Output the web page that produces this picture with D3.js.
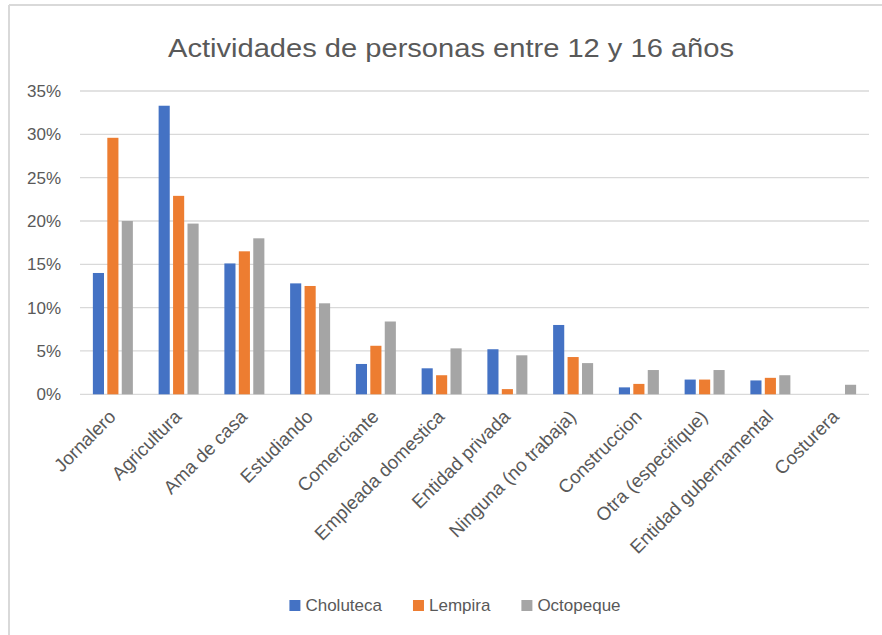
<!DOCTYPE html>
<html>
    <head>
        <style>
            body{
                margin: 0;
                background-color: white;
            }
            text{
                font-family: "Liberation Sans", Arial, sans-serif;
                fill: #595959;
            }
        </style>
        <script src="https://d3js.org/d3.v7.min.js"></script>
    </head>
    <body>
        <script>
            const w = 882;
            const h = 635;

            const categories = ["Jornalero", "Agricultura", "Ama de casa", "Estudiando", "Comerciante",
                "Empleada domestica", "Entidad privada", "Ninguna (no trabaja)", "Construccion",
                "Otra (especifique)", "Entidad gubernamental", "Costurera"];
            const series = ["Choluteca", "Lempira", "Octopeque"];
            const choluteca = [14.0, 33.3, 15.1, 12.8, 3.5, 3.0, 5.2, 8.0, 0.8, 1.7, 1.6, 0];
            const lempira = [29.6, 22.9, 16.5, 12.5, 5.6, 2.2, 0.6, 4.3, 1.2, 1.7, 1.9, 0];
            const octopeque = [20.0, 19.7, 18.0, 10.5, 8.4, 5.3, 4.5, 3.6, 2.8, 2.8, 2.2, 1.1];
            const yTicks = [0, 5, 10, 15, 20, 25, 30, 35];
            const colors = ["#4472c4", "#ed7d31", "#a5a5a5"];

            const values = [choluteca, lempira, octopeque];
            const rows = categories.map((c, i) => ({
                cat: c,
                vals: series.map((s, j) => ({key: s, v: values[j][i], color: colors[j]}))
            }));

            const svg = d3.select("body")
                        .append("svg")
                        .attr("width", w)
                        .attr("height", h);

            // chart frame
            svg.append("line").attr("x1", 9).attr("x2", w).attr("y1", 5).attr("y2", 5)
                .attr("stroke", "#d9d9d9").attr("stroke-width", 2);
            svg.append("line").attr("x1", 9).attr("x2", 9).attr("y1", 5).attr("y2", h)
                .attr("stroke", "#d9d9d9").attr("stroke-width", 2);

            svg.append("text")
                .attr("x", 451)
                .attr("y", 57)
                .attr("text-anchor", "middle")
                .attr("font-size", 26)
                .attr("textLength", 566)
                .attr("lengthAdjust", "spacingAndGlyphs")
                .text("Actividades de personas entre 12 y 16 años");

            const x0 = d3.scaleBand().domain(categories).range([80, 869]).paddingInner(0);
            const groupW = 40;
            const x1 = d3.scaleBand().domain(series).range([0, groupW]).paddingInner(0.23);
            const y = d3.scaleLinear().domain([0, 35]).range([394.3, 91]);

            svg.selectAll(".grid")
                .data(yTicks)
                .enter()
                .append("line")
                .attr("class", "grid")
                .attr("x1", 80)
                .attr("x2", 869)
                .attr("y1", d => y(d))
                .attr("y2", d => y(d))
                .attr("stroke", "#d9d9d9")
                .attr("stroke-width", 1.3);

            svg.selectAll(".ytick")
                .data(yTicks)
                .enter()
                .append("text")
                .attr("class", "ytick")
                .attr("x", 61)
                .attr("y", d => y(d) + 6)
                .attr("text-anchor", "end")
                .attr("font-size", 17)
                .text(d => d + "%");

            const groups = svg.selectAll(".group")
                .data(rows)
                .enter()
                .append("g")
                .attr("class", "group")
                .attr("transform", d => "translate(" + (x0(d.cat) + (x0.bandwidth() - groupW) / 2) + ",0)");

            groups.selectAll("rect")
                .data(d => d.vals)
                .enter()
                .append("rect")
                .attr("x", d => x1(d.key))
                .attr("y", d => y(d.v))
                .attr("width", x1.bandwidth())
                .attr("height", d => y(0) - y(d.v))
                .style("fill", d => d.color);

            svg.selectAll(".xlabel")
                .data(categories)
                .enter()
                .append("text")
                .attr("class", "xlabel")
                .attr("text-anchor", "end")
                .attr("font-size", 18.7)
                .attr("transform", d => "translate(" + (x0(d) + x0.bandwidth() / 2 + 4) + ",418) rotate(-45)")
                .text(d => d);

            // legend
            const legend = svg.append("g").attr("id", "legend");
            const items = legend.selectAll("g")
                .data(series)
                .enter()
                .append("g");
            items.append("rect")
                .attr("width", 11)
                .attr("height", 11)
                .attr("y", 600)
                .style("fill", (d, i) => colors[i]);
            items.append("text")
                .attr("x", 16)
                .attr("y", 611)
                .attr("font-size", 17)
                .text(d => d);
            let pos = 0;
            const offs = [];
            items.each(function(){
                offs.push(pos);
                const tw = d3.select(this).select("text").node().getComputedTextLength();
                pos += 16 + tw + 31;
            });
            const total = pos - 31;
            const start = 455 - total / 2;
            items.attr("transform", (d, i) => "translate(" + (start + offs[i]) + ",0)");
        </script>
    </body>
</html>
